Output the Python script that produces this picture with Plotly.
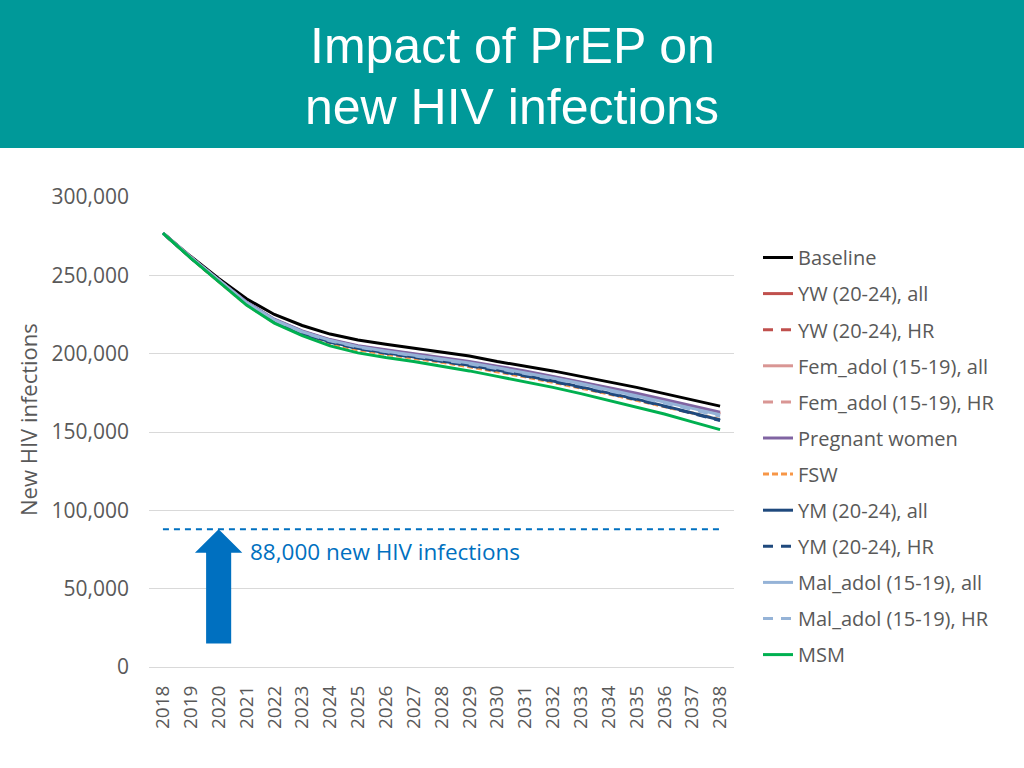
import plotly.graph_objects as go

# Years on the x axis
years = list(range(2018, 2039))

# New HIV infections per scenario
baseline = [277000, 262000, 248000, 235000, 225000, 218000, 212500, 208700, 206000, 203500, 201000,
            198500, 195000, 192000, 189000, 185500, 182000, 178500, 174500, 170500, 166500]
yw_all = [277000, 261500, 246800, 232500, 221500, 214000, 208500, 204500, 202000, 199500, 197000,
          194300, 191300, 188200, 184800, 181200, 177600, 173700, 169700, 165600, 161500]
yw_hr = [277000, 261400, 246600, 232300, 221200, 213700, 208200, 204200, 201700, 199200, 196700,
         194000, 191000, 187900, 184500, 180900, 177200, 173300, 169300, 165200, 161000]
fem_adol_all = [277000, 261500, 246900, 232700, 221700, 214200, 208700, 204700, 202200, 199700, 197200,
                194600, 191600, 188500, 185100, 181600, 178000, 174100, 170100, 166100, 162000]
fem_adol_hr = [277000, 261500, 246900, 232600, 221600, 214100, 208600, 204600, 202100, 199600, 197100,
               194500, 191500, 188400, 185000, 181500, 177900, 174000, 170000, 165900, 161800]
pregnant = [277000, 261600, 247000, 233000, 222000, 214500, 209000, 205000, 202500, 200000, 197500,
            195000, 192000, 189000, 185500, 182000, 178500, 174700, 170700, 166700, 162700]
fsw = [277000, 261000, 246000, 231200, 219800, 212000, 206500, 202500, 199600, 197100, 194500,
       191600, 188600, 185200, 181700, 178100, 174300, 170300, 166300, 162200, 158000]
ym_all = [277000, 261200, 246500, 232000, 221000, 213000, 207500, 203500, 200500, 198000, 195500,
          192600, 189500, 186100, 182600, 178800, 175000, 171000, 166700, 162300, 157700]
ym_hr = [277000, 261200, 246400, 231900, 220800, 212800, 207300, 203300, 200300, 197800, 195200,
         192300, 189200, 185800, 182300, 178500, 174700, 170700, 166400, 162000, 157300]
mal_adol_all = [277000, 261500, 247000, 232600, 221600, 214000, 208500, 204500, 201600, 199100, 196600,
                194000, 191000, 187900, 184500, 181000, 177200, 173300, 169200, 165100, 161000]
mal_adol_hr = [277000, 261400, 246800, 232400, 221300, 213700, 208200, 204200, 201300, 198800, 196200,
               193500, 190500, 187400, 184000, 180400, 176600, 172700, 168500, 164300, 160100]
msm = [277000, 261000, 246000, 231000, 219500, 211500, 205000, 200500, 197500, 195000, 192000,
       189000, 185500, 182000, 178500, 174500, 170200, 166000, 161500, 156500, 151500]

target = 88000
arrow_year = 2020
arrow_bottom = 15000

series = [
    ("Baseline", baseline, "#000000", "solid"),
    ("YW (20-24), all", yw_all, "#C0504D", "solid"),
    ("YW (20-24), HR", yw_hr, "#C0504D", "10px,8px"),
    ("Fem_adol (15-19), all", fem_adol_all, "#D99694", "solid"),
    ("Fem_adol (15-19), HR", fem_adol_hr, "#D99694", "10px,8px"),
    ("Pregnant women", pregnant, "#8064A2", "solid"),
    ("FSW", fsw, "#F79646", "6px,3px"),
    ("YM (20-24), all", ym_all, "#1F497D", "solid"),
    ("YM (20-24), HR", ym_hr, "#1F497D", "10px,8px"),
    ("Mal_adol (15-19), all", mal_adol_all, "#95B3D7", "solid"),
    ("Mal_adol (15-19), HR", mal_adol_hr, "#95B3D7", "10px,8px"),
    ("MSM", msm, "#00B050", "solid"),
]

# plot area in pixels
W, H = 1024, 768
L, R, T, B = 149, 290, 197, 101
PW, PH = W - L - R, H - T - B


def px_x(x):
    return (x - L) / PW


def px_y(y):
    return (H - B - y) / PH


font = "Open Sans"
grey = "#595959"
blue = "#0070C0"

fig = go.Figure()

for i, (name, vals, color, dash) in enumerate(series):
    fig.add_trace(go.Scatter(
        x=years, y=vals, name=name, mode="lines",
        line=dict(color=color, width=3, dash=dash),
        legendgroup=str(i),
    ))

# 88,000 target line
fig.add_trace(go.Scatter(
    x=[years[0], years[-1]], y=[target, target], mode="lines",
    line=dict(color=blue, width=2, dash="6px,5px"),
    showlegend=False, hoverinfo="skip",
))

# block arrow pointing up to the target line
sw, hw = 0.45, 0.85
head_base = target - 15000
path = (f"M {arrow_year - sw} {arrow_bottom} L {arrow_year + sw} {arrow_bottom} "
        f"L {arrow_year + sw} {head_base} L {arrow_year + hw} {head_base} "
        f"L {arrow_year} {target} L {arrow_year - hw} {head_base} "
        f"L {arrow_year - sw} {head_base} Z")

shapes = [
    dict(type="rect", xref="paper", yref="paper", x0=px_x(0), x1=px_x(W),
         y0=px_y(148), y1=px_y(0), fillcolor="#009999", line=dict(width=0), layer="below"),
    dict(type="path", xref="x", yref="y", path=path, fillcolor=blue, line=dict(width=0)),
]

annotations = [
    dict(text="Impact of PrEP on", xref="paper", yref="paper", x=px_x(512), y=px_y(46),
         xanchor="center", yanchor="middle", showarrow=False,
         font=dict(family="Liberation Sans", size=50, color="white")),
    dict(text="new HIV infections", xref="paper", yref="paper", x=px_x(512), y=px_y(107),
         xanchor="center", yanchor="middle", showarrow=False,
         font=dict(family="Liberation Sans", size=50, color="white")),
    dict(text="New HIV infections", xref="paper", yref="paper", x=px_x(28), y=px_y(420),
         xanchor="center", yanchor="middle", textangle=-90, showarrow=False,
         font=dict(family=font, size=22, color=grey)),
    dict(text="88,000 new HIV infections", xref="paper", yref="paper", x=px_x(248), y=px_y(551),
         xanchor="left", yanchor="middle", showarrow=False,
         font=dict(family=font, size=22.5, color=blue)),
]

fig.update_layout(
    width=W, height=H,
    margin=dict(l=L, r=R, t=T, b=B),
    paper_bgcolor="white", plot_bgcolor="white",
    shapes=shapes, annotations=annotations,
    showlegend=True,
    legend=dict(x=px_x(758), y=px_y(238), xanchor="left", yanchor="top",
                font=dict(family=font, size=20, color=grey),
                tracegroupgap=7.1, bgcolor="rgba(0,0,0,0)"),
    xaxis=dict(range=[2017.5, 2038.5], tickvals=years, tickangle=-90,
               showgrid=False, zeroline=False, showline=True, linecolor="#D9D9D9", linewidth=1,
               tickfont=dict(family=font, size=19, color=grey), ticklabelstandoff=10),
    yaxis=dict(range=[0, 300000], tickvals=[0, 50000, 100000, 150000, 200000, 250000, 300000],
               tickformat=",", showgrid=True, gridcolor="#D9D9D9", zeroline=False,
               tickfont=dict(family=font, size=21, color=grey), ticklabelstandoff=19),
)

fig.write_html("out.html", config={"displayModeBar": False},
               post_script="document.body.style.margin='0';")
